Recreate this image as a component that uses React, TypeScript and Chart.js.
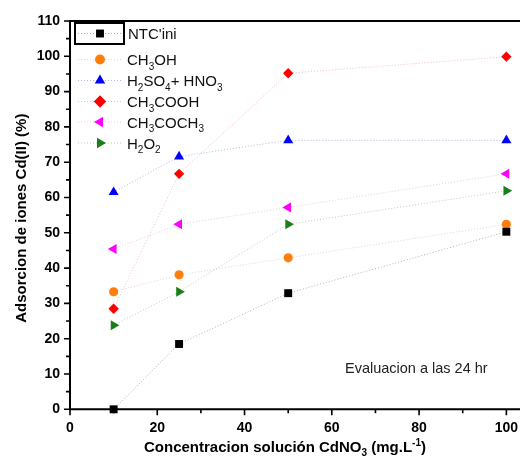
import React, { useEffect, useRef } from 'react';
import { Chart, registerables } from 'chart.js';

Chart.register(...registerables);

// ---- data ----
const concentrations = [10, 25, 50, 100];
const ntcIni = [0, 18.5, 32.9, 50.3];
const ch3oh = [33.3, 38.1, 42.9, 52.4];
const h2so4Hno3 = [61.5, 71.6, 76.2, 76.2];
const ch3cooh = [28.5, 66.7, 95.2, 99.9];
const ch3coch3 = [45.4, 52.4, 57.2, 66.7];
const h2o2 = [23.8, 33.3, 52.4, 61.9];

const xMin = 0;
const xMax = 110;
const xStep = 10;
const xLabelEvery = 20;
const yMin = 0;
const yMax = 110;
const yStep = 5;
const yLabelEvery = 10;

const xTitle: [string, string][] = [
  ['Concentracion solución CdNO', ''],
  ['3', 'sub'],
  [' (mg.L', ''],
  ['-1', 'sup'],
  [')', ''],
];
const yTitle = 'Adsorcion de iones Cd(II) (%)';
const noteText = 'Evaluacion a las 24 hr';

type Seg = [string, string];
const legendLabels: Seg[][] = [
  [["NTC'ini", '']],
  [['CH', ''], ['3', 'sub'], ['OH', '']],
  [['H', ''], ['2', 'sub'], ['SO', ''], ['4', 'sub'], ['+ HNO', ''], ['3', 'sub']],
  [['CH', ''], ['3', 'sub'], ['COOH', '']],
  [['CH', ''], ['3', 'sub'], ['COCH', ''], ['3', 'sub']],
  [['H', ''], ['2', 'sub'], ['O', ''], ['2', 'sub']],
];

const seriesValues = [ntcIni, ch3oh, h2so4Hno3, ch3cooh, ch3coch3, h2o2];
const seriesColors = ['#000000', '#ff7f0e', '#0000ff', '#ff0000', '#ff00ff', '#1a7f1a'];
const seriesLineColors = [
  'rgba(130,130,130,0.6)',
  'rgba(230,160,160,0.5)',
  'rgba(130,130,210,0.6)',
  'rgba(230,130,160,0.55)',
  'rgba(220,150,200,0.5)',
  'rgba(140,160,140,0.55)',
];
const seriesStyles = ['rect', 'circle', 'triangle', 'rectRot', 'triangle', 'triangle'];
const seriesRotations = [0, 0, 0, 0, -90, 90];
const seriesRadii = [5.6, 4.6, 5.8, 5.2, 5.8, 5.8];
const legendRadii = [5.6, 5, 6, 6.2, 6, 6];

const FONT = '"Liberation Sans", Arial, Helvetica, sans-serif';

function drawMarker(ctx: CanvasRenderingContext2D, style: string, rot: number, r: number, x: number, y: number, color: string) {
  ctx.save();
  ctx.fillStyle = color;
  ctx.beginPath();
  if (style === 'rect') {
    const s = Math.SQRT1_2 * r;
    ctx.rect(x - s, y - s, 2 * s, 2 * s);
  } else if (style === 'circle') {
    ctx.arc(x, y, r, 0, Math.PI * 2);
  } else if (style === 'rectRot') {
    ctx.moveTo(x, y - r);
    ctx.lineTo(x + r, y);
    ctx.lineTo(x, y + r);
    ctx.lineTo(x - r, y);
    ctx.closePath();
  } else if (style === 'triangle') {
    let rad = (rot * Math.PI) / 180;
    ctx.moveTo(x + Math.sin(rad) * r, y - Math.cos(rad) * r);
    rad += (2 * Math.PI) / 3;
    ctx.lineTo(x + Math.sin(rad) * r, y - Math.cos(rad) * r);
    rad += (2 * Math.PI) / 3;
    ctx.lineTo(x + Math.sin(rad) * r, y - Math.cos(rad) * r);
    ctx.closePath();
  }
  ctx.fill();
  ctx.restore();
}

function segWidth(ctx: CanvasRenderingContext2D, segs: Seg[], size: number, weight: string, small: number) {
  let w = 0;
  for (const [t, k] of segs) {
    ctx.font = `${weight} ${k ? small : size}px ${FONT}`;
    w += ctx.measureText(t).width;
  }
  return w;
}

function drawSegs(ctx: CanvasRenderingContext2D, segs: Seg[], x: number, y: number, size: number, weight: string, small: number, subOff: number, supOff: number) {
  ctx.textBaseline = 'alphabetic';
  ctx.textAlign = 'left';
  let cx = x;
  for (const [t, k] of segs) {
    ctx.font = `${weight} ${k ? small : size}px ${FONT}`;
    const dy = k === 'sub' ? subOff : k === 'sup' ? supOff : 0;
    ctx.fillText(t, cx, y + dy);
    cx += ctx.measureText(t).width;
  }
}

const decorPlugin = {
  id: 'decor',
  afterDraw(chart: any) {
    const ctx: CanvasRenderingContext2D = chart.ctx;
    const { left, right, top, bottom } = chart.chartArea;
    const xs = chart.scales.x;
    const ys = chart.scales.y;
    ctx.save();
    ctx.strokeStyle = '#000';
    ctx.lineWidth = 2;
    // axes and frame
    ctx.beginPath();
    ctx.moveTo(left, top);
    ctx.lineTo(left, bottom);
    ctx.moveTo(left - 1, bottom);
    ctx.lineTo(right, bottom);
    ctx.moveTo(left - 1, top);
    ctx.lineTo(right, top);
    ctx.stroke();
    // ticks
    ctx.lineWidth = 1.6;
    ctx.beginPath();
    for (const t of ys.ticks) {
      const py = ys.getPixelForValue(t.value);
      const major = Math.abs(t.value % yLabelEvery) < 1e-6;
      ctx.moveTo(left, py);
      ctx.lineTo(left - (major ? 6 : 4), py);
    }
    for (const t of xs.ticks) {
      const px = xs.getPixelForValue(t.value);
      const major = Math.abs(t.value % xLabelEvery) < 1e-6;
      ctx.moveTo(px, bottom);
      ctx.lineTo(px, bottom + (major ? 6 : 4));
    }
    ctx.stroke();

    // legend
    const lgX = 100;
    const lgYs = [33.5, 59.5, 80.5, 101.5, 122, 143];
    ctx.lineWidth = 2;
    ctx.strokeRect(75, 23, 49, 21);
    for (let i = 0; i < legendLabels.length; i++) {
      const y = lgYs[i];
      ctx.save();
      ctx.strokeStyle = seriesLineColors[i];
      ctx.lineWidth = 1;
      ctx.setLineDash([1, 2]);
      ctx.beginPath();
      ctx.moveTo(78, y);
      ctx.lineTo(123, y);
      ctx.stroke();
      ctx.restore();
      drawMarker(ctx, seriesStyles[i], seriesRotations[i], legendRadii[i], lgX, y, seriesColors[i]);
      ctx.fillStyle = '#111';
      drawSegs(ctx, legendLabels[i], i === 0 ? 128 : 127, y + 5.5, 15, 'normal', 10, 4.5, -6);
    }

    // note
    ctx.fillStyle = '#222';
    ctx.font = `normal 14.5px ${FONT}`;
    ctx.textAlign = 'left';
    ctx.textBaseline = 'middle';
    ctx.fillText(noteText, 345, 369);

    // x title
    ctx.fillStyle = '#000';
    const w = segWidth(ctx, xTitle, 15, 'bold', 10);
    drawSegs(ctx, xTitle, 285 - w / 2, 452, 15, 'bold', 10, 4, -6);

    // y title
    ctx.save();
    ctx.translate(22, (top + bottom) / 2 + 3);
    ctx.rotate(-Math.PI / 2);
    ctx.font = `bold 15px ${FONT}`;
    ctx.textAlign = 'center';
    ctx.textBaseline = 'middle';
    ctx.fillText(yTitle, 0, 0);
    ctx.restore();

    ctx.restore();
  },
};

export default function App() {
  const ref = useRef<HTMLCanvasElement>(null);
  useEffect(() => {
    if (!ref.current) return;
    const datasets = seriesValues.map((vals, i) => ({
      label: legendLabels[i].map((s) => s[0]).join(''),
      data: concentrations.map((c, j) => ({ x: c, y: vals[j] })),
      borderColor: seriesLineColors[i],
      backgroundColor: seriesColors[i],
      pointBackgroundColor: seriesColors[i],
      pointBorderColor: seriesColors[i],
      pointBorderWidth: 0,
      borderWidth: 1,
      borderDash: [1, 2],
      pointStyle: seriesStyles[i],
      pointRotation: seriesRotations[i],
      pointRadius: seriesRadii[i],
      showLine: true,
      fill: false,
      tension: 0,
      clip: false as any,
    }));
    const chart = new Chart(ref.current, {
      type: 'scatter',
      data: { datasets },
      options: {
        animation: false,
        responsive: false,
        devicePixelRatio: 1,
        layout: { padding: { top: 21, right: 8, left: 0, bottom: 0 } },
        plugins: { legend: { display: false }, tooltip: { enabled: false }, title: { display: false } },
        scales: {
          x: {
            type: 'linear',
            min: xMin,
            max: xMax,
            grid: { display: false, drawTicks: false },
            border: { display: false },
            ticks: {
              stepSize: xStep,
              autoSkip: false,
              maxRotation: 0,
              padding: 10,
              color: '#000',
              font: { family: FONT, size: 14, weight: 'bold' },
              callback: (v: any) => (v % xLabelEvery === 0 && v < xMax ? String(v) : ''),
            },
            afterFit: (s: any) => {
              s.height = 459 - 409.3;
            },
          },
          y: {
            type: 'linear',
            min: yMin,
            max: yMax,
            grid: { display: false, drawTicks: false },
            border: { display: false },
            ticks: {
              stepSize: yStep,
              autoSkip: false,
              padding: 10,
              color: '#000',
              font: { family: FONT, size: 14, weight: 'bold' },
              callback: (v: any) => (v % yLabelEvery === 0 ? String(v) : ''),
            },
            afterFit: (s: any) => {
              s.width = 70;
            },
          },
        },
      },
      plugins: [decorPlugin],
    } as any);
    return () => chart.destroy();
  }, []);
  return (
    <div style={{ position: 'fixed', left: 0, top: 0, width: 520, height: 459, overflow: 'hidden', background: '#fff' }}>
      <canvas ref={ref} width={560} height={459} style={{ width: 560, height: 459, display: 'block' }} />
    </div>
  );
}
